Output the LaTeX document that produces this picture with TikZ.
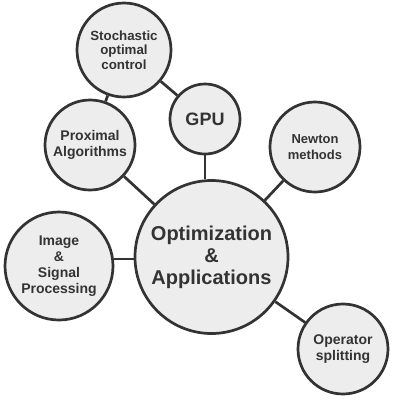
\documentclass[tikz,border=0pt]{standalone}
\usepackage{fontspec}
\setmainfont{Liberation Sans}
\definecolor{bubblefill}{HTML}{EDEDED}
\definecolor{bubbleline}{HTML}{333333}
\tikzset{
  bubble/.style={circle, draw=bubbleline, fill=bubblefill, line width=2.7pt,
    inner sep=0pt, align=center, text=bubbleline, font=\bfseries\fontsize{14}{16}\selectfont},
  link/.style={draw=bubbleline, line width=2.7pt}
}
\begin{document}
\begin{tikzpicture}[x=1pt,y=-1pt]
\useasboundingbox (0,0) rectangle (400,400);
\node[bubble, minimum size=153pt, font=\bfseries\fontsize{20}{22}\selectfont] (main) at (211.5,257) {Optimization\\\&\\Applications};
\node[bubble, minimum size=94pt, font=\bfseries\fontsize{13.3}{14.5}\selectfont] (stoch) at (124,50) {Stochastic\\optimal\\control};
\node[bubble, minimum size=70pt, font=\bfseries\fontsize{18}{20}\selectfont] (gpu) at (205,119) {GPU};
\node[bubble, minimum size=90pt] (prox) at (90,145) {Proximal\\Algorithms};
\node[bubble, minimum size=90pt, font=\bfseries\fontsize{13}{15.5}\selectfont] (newton) at (315,147) {Newton\\methods};
\node[bubble, minimum size=108pt] (image) at (59,266) {Image\\\&\\Signal\\Processing};
\node[bubble, minimum size=90pt] (oper) at (343,349) {Operator\\splitting};
\coordinate (ilink) at (0,259);
\draw[link] (gpu.south) -- (gpu.south |- main.north);
\draw[link] (main) -- (prox);
\draw[link] (main) -- (newton);
\draw[link] (ilink -| image.east) -- (ilink -| main.west);
\draw[link] (main) -- (oper);
\draw[link] (stoch) -- (gpu);
\draw[link] (stoch) -- (prox);
\end{tikzpicture}
\end{document}
